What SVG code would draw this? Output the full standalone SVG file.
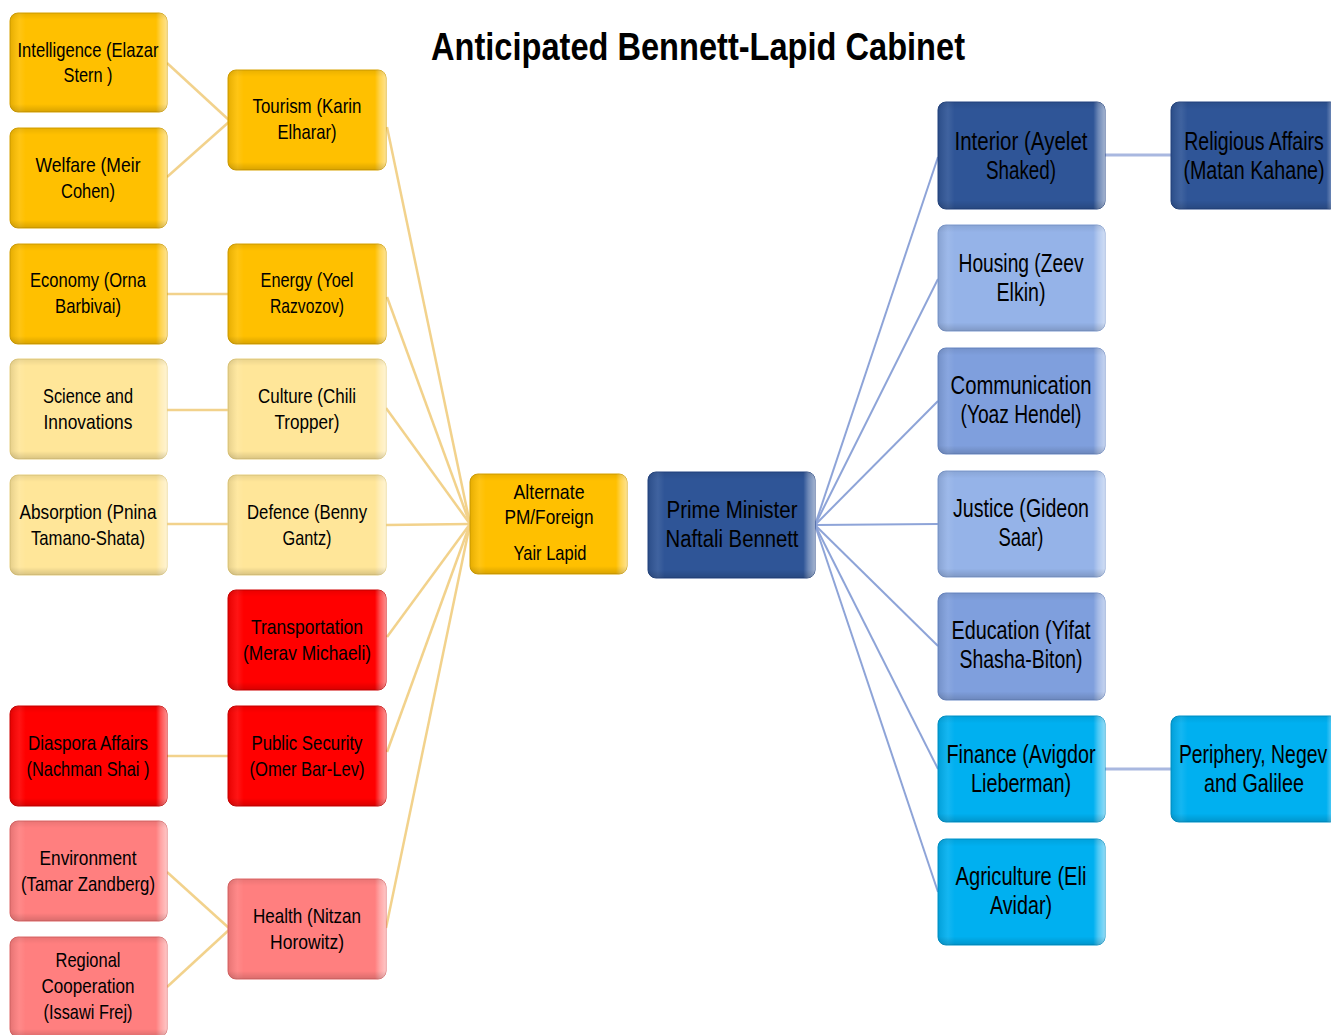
<svg xmlns="http://www.w3.org/2000/svg" width="1331" height="1035" viewBox="0 0 1331 1035">
<style>
  .t { font-family: "Liberation Sans", Arial, sans-serif; fill: #000; text-anchor: middle; }
  .s { font-size: 21px; }
  .m { font-size: 23px; }
  .l { font-size: 25px; }
  .title { font-family: "Liberation Sans", Arial, sans-serif; font-weight: bold; font-size: 39px; fill: #000; }
  .box { stroke-width: 1; }
  .gold { fill: #FFC000; stroke: #D9A300; }
  .lyel { fill: #FFE699; stroke: #E8D080; }
  .red { fill: #FF0000; stroke: #D00000; }
  .pink { fill: #FF7F7F; stroke: #E06868; }
  .dblue { fill: #2F5597; stroke: #244583; }
  .lblue { fill: #95B3E8; stroke: #7E9CD2; }
  .mblue { fill: #7F9FDD; stroke: #6B8AC8; }
  .cyan { fill: #00B0F0; stroke: #0095CC; }
  .bh { fill: url(#bevH); stroke: none; }
  .bv { fill: url(#bevV); stroke: none; }
  .cy { stroke: #F2D28C; stroke-width: 2.5; fill: none; }
  .cb { stroke: #8EA4D8; stroke-width: 2; fill: none; }
  .cb3 { stroke: #A9B8E0; stroke-width: 3; fill: none; }
</style>
<defs>
  <linearGradient id="bevH" x1="0" y1="0" x2="1" y2="0">
    <stop offset="0" stop-color="#000" stop-opacity="0.10"/>
    <stop offset="0.06" stop-color="#fff" stop-opacity="0.08"/>
    <stop offset="0.1" stop-color="#fff" stop-opacity="0"/>
    <stop offset="0.93" stop-color="#fff" stop-opacity="0"/>
    <stop offset="0.96" stop-color="#fff" stop-opacity="0.3"/>
    <stop offset="1" stop-color="#fff" stop-opacity="0.55"/>
  </linearGradient>
  <linearGradient id="bevV" x1="0" y1="0" x2="0" y2="1">
    <stop offset="0" stop-color="#000" stop-opacity="0.08"/>
    <stop offset="0.07" stop-color="#000" stop-opacity="0"/>
    <stop offset="0.92" stop-color="#000" stop-opacity="0"/>
    <stop offset="1" stop-color="#000" stop-opacity="0.15"/>
  </linearGradient>
</defs>
<rect width="1331" height="1035" fill="#fff"/>

<text class="title" x="431" y="60" textLength="534" lengthAdjust="spacingAndGlyphs">Anticipated Bennett-Lapid Cabinet</text>

<g id="connectors">
  <line class="cy" x1="167" y1="63" x2="230" y2="121"/>
  <line class="cy" x1="167" y1="177" x2="230" y2="121"/>
  <line class="cy" x1="167" y1="294" x2="229" y2="294"/>
  <line class="cy" x1="167" y1="410" x2="229" y2="410"/>
  <line class="cy" x1="167" y1="524" x2="229" y2="524"/>
  <line class="cy" x1="167" y1="756" x2="229" y2="756"/>
  <line class="cy" x1="167" y1="872" x2="230" y2="929"/>
  <line class="cy" x1="167" y1="987" x2="230" y2="929"/>
  <line class="cy" x1="387" y1="127" x2="470" y2="524"/>
  <line class="cy" x1="387" y1="297" x2="470" y2="524"/>
  <line class="cy" x1="386" y1="408" x2="470" y2="524"/>
  <line class="cy" x1="386" y1="525" x2="470" y2="524"/>
  <line class="cy" x1="387" y1="637" x2="470" y2="524"/>
  <line class="cy" x1="387" y1="752" x2="470" y2="524"/>
  <line class="cy" x1="386" y1="928" x2="470" y2="524"/>
  <line class="cb" x1="815" y1="525" x2="938" y2="157"/>
  <line class="cb" x1="815" y1="525" x2="938" y2="279"/>
  <line class="cb" x1="815" y1="525" x2="938" y2="401"/>
  <line class="cb" x1="815" y1="525" x2="938" y2="524"/>
  <line class="cb" x1="815" y1="525" x2="938" y2="646"/>
  <line class="cb" x1="815" y1="525" x2="938" y2="769"/>
  <line class="cb" x1="815" y1="525" x2="938" y2="892"/>
  <line class="cb3" x1="1105" y1="155" x2="1171" y2="155"/>
  <line class="cb3" x1="1105" y1="769" x2="1171" y2="769"/>
</g>

<!-- Left column -->
<g id="n-intelligence">
  <rect class="box gold" x="10" y="13" width="157" height="99" rx="8"/>
  <rect class="bh" x="10" y="13" width="157" height="99" rx="8"/><rect class="bv" x="10" y="13" width="157" height="99" rx="8"/>
  <text class="t s" x="88" y="57" textLength="141" lengthAdjust="spacingAndGlyphs">Intelligence (Elazar</text>
  <text class="t s" x="88" y="82" textLength="49" lengthAdjust="spacingAndGlyphs">Stern )</text>
</g>
<g id="n-welfare">
  <rect class="box gold" x="10" y="128" width="157" height="100" rx="8"/>
  <rect class="bh" x="10" y="128" width="157" height="100" rx="8"/><rect class="bv" x="10" y="128" width="157" height="100" rx="8"/>
  <text class="t s" x="88" y="172" textLength="105" lengthAdjust="spacingAndGlyphs">Welfare (Meir</text>
  <text class="t s" x="88" y="198" textLength="54" lengthAdjust="spacingAndGlyphs">Cohen)</text>
</g>
<g id="n-economy">
  <rect class="box gold" x="10" y="244" width="157" height="100" rx="8"/>
  <rect class="bh" x="10" y="244" width="157" height="100" rx="8"/><rect class="bv" x="10" y="244" width="157" height="100" rx="8"/>
  <text class="t s" x="88" y="287" textLength="116" lengthAdjust="spacingAndGlyphs">Economy (Orna</text>
  <text class="t s" x="88" y="313" textLength="66" lengthAdjust="spacingAndGlyphs">Barbivai)</text>
</g>
<g id="n-science">
  <rect class="box lyel" x="10" y="359" width="157" height="100" rx="8"/>
  <rect class="bh" x="10" y="359" width="157" height="100" rx="8"/><rect class="bv" x="10" y="359" width="157" height="100" rx="8"/>
  <text class="t s" x="88" y="403" textLength="90" lengthAdjust="spacingAndGlyphs">Science and</text>
  <text class="t s" x="88" y="429" textLength="89" lengthAdjust="spacingAndGlyphs">Innovations</text>
</g>
<g id="n-absorption">
  <rect class="box lyel" x="10" y="475" width="157" height="100" rx="8"/>
  <rect class="bh" x="10" y="475" width="157" height="100" rx="8"/><rect class="bv" x="10" y="475" width="157" height="100" rx="8"/>
  <text class="t s" x="88" y="519" textLength="137" lengthAdjust="spacingAndGlyphs">Absorption (Pnina</text>
  <text class="t s" x="88" y="545" textLength="114" lengthAdjust="spacingAndGlyphs">Tamano-Shata)</text>
</g>
<g id="n-diaspora">
  <rect class="box red" x="10" y="706" width="157" height="100" rx="8"/>
  <rect class="bh" x="10" y="706" width="157" height="100" rx="8"/><rect class="bv" x="10" y="706" width="157" height="100" rx="8"/>
  <text class="t s" x="88" y="750" textLength="120" lengthAdjust="spacingAndGlyphs">Diaspora Affairs</text>
  <text class="t s" x="88" y="776" textLength="123" lengthAdjust="spacingAndGlyphs">(Nachman Shai )</text>
</g>
<g id="n-environment">
  <rect class="box pink" x="10" y="821" width="157" height="100" rx="8"/>
  <rect class="bh" x="10" y="821" width="157" height="100" rx="8"/><rect class="bv" x="10" y="821" width="157" height="100" rx="8"/>
  <text class="t s" x="88" y="865" textLength="97" lengthAdjust="spacingAndGlyphs">Environment</text>
  <text class="t s" x="88" y="891" textLength="134" lengthAdjust="spacingAndGlyphs">(Tamar Zandberg)</text>
</g>
<g id="n-regional">
  <rect class="box pink" x="10" y="937" width="157" height="100" rx="8"/>
  <rect class="bh" x="10" y="937" width="157" height="100" rx="8"/><rect class="bv" x="10" y="937" width="157" height="100" rx="8"/>
  <text class="t s" x="88" y="967" textLength="65" lengthAdjust="spacingAndGlyphs">Regional</text>
  <text class="t s" x="88" y="993" textLength="93" lengthAdjust="spacingAndGlyphs">Cooperation</text>
  <text class="t s" x="88" y="1019" textLength="89" lengthAdjust="spacingAndGlyphs">(Issawi Frej)</text>
</g>

<!-- Second column -->
<g id="n-tourism">
  <rect class="box gold" x="228" y="70" width="158" height="100" rx="8"/>
  <rect class="bh" x="228" y="70" width="158" height="100" rx="8"/><rect class="bv" x="228" y="70" width="158" height="100" rx="8"/>
  <text class="t s" x="307" y="113" textLength="109" lengthAdjust="spacingAndGlyphs">Tourism (Karin</text>
  <text class="t s" x="307" y="139" textLength="59" lengthAdjust="spacingAndGlyphs">Elharar)</text>
</g>
<g id="n-energy">
  <rect class="box gold" x="228" y="244" width="158" height="100" rx="8"/>
  <rect class="bh" x="228" y="244" width="158" height="100" rx="8"/><rect class="bv" x="228" y="244" width="158" height="100" rx="8"/>
  <text class="t s" x="307" y="287" textLength="93" lengthAdjust="spacingAndGlyphs">Energy (Yoel</text>
  <text class="t s" x="307" y="313" textLength="74" lengthAdjust="spacingAndGlyphs">Razvozov)</text>
</g>
<g id="n-culture">
  <rect class="box lyel" x="228" y="359" width="158" height="100" rx="8"/>
  <rect class="bh" x="228" y="359" width="158" height="100" rx="8"/><rect class="bv" x="228" y="359" width="158" height="100" rx="8"/>
  <text class="t s" x="307" y="403" textLength="98" lengthAdjust="spacingAndGlyphs">Culture (Chili</text>
  <text class="t s" x="307" y="429" textLength="65" lengthAdjust="spacingAndGlyphs">Tropper)</text>
</g>
<g id="n-defence">
  <rect class="box lyel" x="228" y="475" width="158" height="100" rx="8"/>
  <rect class="bh" x="228" y="475" width="158" height="100" rx="8"/><rect class="bv" x="228" y="475" width="158" height="100" rx="8"/>
  <text class="t s" x="307" y="519" textLength="120" lengthAdjust="spacingAndGlyphs">Defence (Benny</text>
  <text class="t s" x="307" y="545" textLength="49" lengthAdjust="spacingAndGlyphs">Gantz)</text>
</g>
<g id="n-transportation">
  <rect class="box red" x="228" y="590" width="158" height="100" rx="8"/>
  <rect class="bh" x="228" y="590" width="158" height="100" rx="8"/><rect class="bv" x="228" y="590" width="158" height="100" rx="8"/>
  <text class="t s" x="307" y="634" textLength="112" lengthAdjust="spacingAndGlyphs">Transportation</text>
  <text class="t s" x="307" y="660" textLength="128" lengthAdjust="spacingAndGlyphs">(Merav Michaeli)</text>
</g>
<g id="n-publicsecurity">
  <rect class="box red" x="228" y="706" width="158" height="100" rx="8"/>
  <rect class="bh" x="228" y="706" width="158" height="100" rx="8"/><rect class="bv" x="228" y="706" width="158" height="100" rx="8"/>
  <text class="t s" x="307" y="750" textLength="111" lengthAdjust="spacingAndGlyphs">Public Security</text>
  <text class="t s" x="307" y="776" textLength="115" lengthAdjust="spacingAndGlyphs">(Omer Bar-Lev)</text>
</g>
<g id="n-health">
  <rect class="box pink" x="228" y="879" width="158" height="100" rx="8"/>
  <rect class="bh" x="228" y="879" width="158" height="100" rx="8"/><rect class="bv" x="228" y="879" width="158" height="100" rx="8"/>
  <text class="t s" x="307" y="923" textLength="108" lengthAdjust="spacingAndGlyphs">Health (Nitzan</text>
  <text class="t s" x="307" y="949" textLength="74" lengthAdjust="spacingAndGlyphs">Horowitz)</text>
</g>

<!-- Center -->
<g id="n-alternate">
  <rect class="box gold" x="470" y="474" width="157" height="100" rx="8"/>
  <rect class="bh" x="470" y="474" width="157" height="100" rx="8"/><rect class="bv" x="470" y="474" width="157" height="100" rx="8"/>
  <text class="t s" x="549" y="499" textLength="71" lengthAdjust="spacingAndGlyphs">Alternate</text>
  <text class="t s" x="549" y="524" textLength="89" lengthAdjust="spacingAndGlyphs">PM/Foreign</text>
  <text class="t s" x="550" y="560" textLength="73" lengthAdjust="spacingAndGlyphs">Yair Lapid</text>
</g>
<g id="n-pm">
  <rect class="box dblue" x="648" y="472" width="167" height="106" rx="8"/>
  <rect class="bh" x="648" y="472" width="167" height="106" rx="8"/><rect class="bv" x="648" y="472" width="167" height="106" rx="8"/>
  <text class="t m" x="732" y="518" textLength="131" lengthAdjust="spacingAndGlyphs">Prime Minister</text>
  <text class="t m" x="732" y="547" textLength="133" lengthAdjust="spacingAndGlyphs">Naftali Bennett</text>
</g>

<!-- Right column -->
<g id="n-interior">
  <rect class="box dblue" x="938" y="102" width="167" height="107" rx="8"/>
  <rect class="bh" x="938" y="102" width="167" height="107" rx="8"/><rect class="bv" x="938" y="102" width="167" height="107" rx="8"/>
  <text class="t l" x="1021" y="150" textLength="133" lengthAdjust="spacingAndGlyphs">Interior (Ayelet</text>
  <text class="t l" x="1021" y="179" textLength="70" lengthAdjust="spacingAndGlyphs">Shaked)</text>
</g>
<g id="n-housing">
  <rect class="box lblue" x="938" y="225" width="167" height="106" rx="8"/>
  <rect class="bh" x="938" y="225" width="167" height="106" rx="8"/><rect class="bv" x="938" y="225" width="167" height="106" rx="8"/>
  <text class="t l" x="1021" y="272" textLength="125" lengthAdjust="spacingAndGlyphs">Housing (Zeev</text>
  <text class="t l" x="1021" y="301" textLength="49" lengthAdjust="spacingAndGlyphs">Elkin)</text>
</g>
<g id="n-communication">
  <rect class="box mblue" x="938" y="348" width="167" height="106" rx="8"/>
  <rect class="bh" x="938" y="348" width="167" height="106" rx="8"/><rect class="bv" x="938" y="348" width="167" height="106" rx="8"/>
  <text class="t l" x="1021" y="394" textLength="141" lengthAdjust="spacingAndGlyphs">Communication</text>
  <text class="t l" x="1021" y="423" textLength="121" lengthAdjust="spacingAndGlyphs">(Yoaz Hendel)</text>
</g>
<g id="n-justice">
  <rect class="box lblue" x="938" y="471" width="167" height="106" rx="8"/>
  <rect class="bh" x="938" y="471" width="167" height="106" rx="8"/><rect class="bv" x="938" y="471" width="167" height="106" rx="8"/>
  <text class="t l" x="1021" y="517" textLength="136" lengthAdjust="spacingAndGlyphs">Justice (Gideon</text>
  <text class="t l" x="1021" y="546" textLength="45" lengthAdjust="spacingAndGlyphs">Saar)</text>
</g>
<g id="n-education">
  <rect class="box mblue" x="938" y="593" width="167" height="107" rx="8"/>
  <rect class="bh" x="938" y="593" width="167" height="107" rx="8"/><rect class="bv" x="938" y="593" width="167" height="107" rx="8"/>
  <text class="t l" x="1021" y="639" textLength="139" lengthAdjust="spacingAndGlyphs">Education (Yifat</text>
  <text class="t l" x="1021" y="668" textLength="123" lengthAdjust="spacingAndGlyphs">Shasha-Biton)</text>
</g>
<g id="n-finance">
  <rect class="box cyan" x="938" y="716" width="167" height="106" rx="8"/>
  <rect class="bh" x="938" y="716" width="167" height="106" rx="8"/><rect class="bv" x="938" y="716" width="167" height="106" rx="8"/>
  <text class="t l" x="1021" y="763" textLength="149" lengthAdjust="spacingAndGlyphs">Finance (Avigdor</text>
  <text class="t l" x="1021" y="792" textLength="100" lengthAdjust="spacingAndGlyphs">Lieberman)</text>
</g>
<g id="n-agriculture">
  <rect class="box cyan" x="938" y="839" width="167" height="106" rx="8"/>
  <rect class="bh" x="938" y="839" width="167" height="106" rx="8"/><rect class="bv" x="938" y="839" width="167" height="106" rx="8"/>
  <text class="t l" x="1021" y="885" textLength="131" lengthAdjust="spacingAndGlyphs">Agriculture (Eli</text>
  <text class="t l" x="1021" y="914" textLength="62" lengthAdjust="spacingAndGlyphs">Avidar)</text>
</g>
<g id="n-religious">
  <rect class="box dblue" x="1171" y="102" width="167" height="107" rx="8"/>
  <rect class="bh" x="1171" y="102" width="167" height="107" rx="8"/><rect class="bv" x="1171" y="102" width="167" height="107" rx="8"/>
  <text class="t l" transform="translate(1254,150) scale(0.78,1)" x="0" y="0" textLength="179" lengthAdjust="spacingAndGlyphs">Religious Affairs</text>
  <text class="t l" transform="translate(1254,179) scale(0.78,1)" x="0" y="0" textLength="181" lengthAdjust="spacingAndGlyphs">(Matan Kahane)</text>
</g>
<g id="n-periphery">
  <rect class="box cyan" x="1171" y="716" width="167" height="106" rx="8"/>
  <rect class="bh" x="1171" y="716" width="167" height="106" rx="8"/><rect class="bv" x="1171" y="716" width="167" height="106" rx="8"/>
  <text class="t l" transform="translate(1253,763) scale(0.78,1)" x="0" y="0" textLength="190" lengthAdjust="spacingAndGlyphs">Periphery, Negev</text>
  <text class="t l" x="1254" y="792" textLength="100" lengthAdjust="spacingAndGlyphs">and Galilee</text>
</g>
</svg>
